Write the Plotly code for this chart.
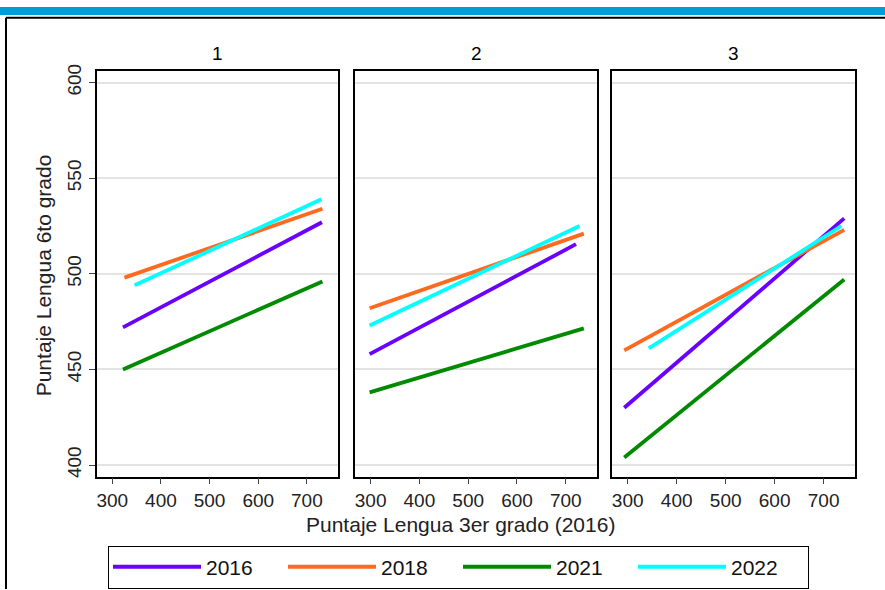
import plotly.graph_objects as go

# ---------------- data ----------------
panels = ["1", "2", "3"]
years = ["2016", "2018", "2021", "2022"]
colors = {"2016": "#6A00FF", "2018": "#FF6A1F", "2021": "#008A00", "2022": "#00FFFF"}

# Fitted-line endpoints per panel (panel 1, 2, 3)
x_start = {"2016": [322, 298, 293], "2018": [325, 298, 293], "2021": [322, 298, 293], "2022": [346, 298, 343]}
x_end = {"2016": [731, 721, 742], "2018": [732, 737, 742], "2021": [732, 737, 742], "2022": [730, 728, 736]}
y_start = {"2016": [472, 458, 430], "2018": [498, 482, 460], "2021": [450, 438, 404], "2022": [494, 473, 461]}
y_end = {"2016": [527, 515.5, 529], "2018": [534, 521, 523], "2021": [496, 471.5, 497], "2022": [539, 525, 525]}

x_ticks = [300, 400, 500, 600, 700]
y_ticks = [400, 450, 500, 550, 600]
x_title = "Puntaje Lengua 3er grado (2016)"
y_title = "Puntaje Lengua 6to grado"

# ---------------- layout geometry (pixels) ----------------
W, H = 885, 590
px_x = [(96.7, 338), (355, 597), (612, 855)]
py_top, py_bot = 65, 476
FONT = "Liberation Sans, Arial, sans-serif"

fig = go.Figure()
for i, p in enumerate(panels):
    ax = "" if i == 0 else str(i + 1)
    for y in years:
        fig.add_trace(go.Scatter(
            x=[x_start[y][i], x_end[y][i]],
            y=[y_start[y][i], y_end[y][i]],
            mode="lines",
            line=dict(color=colors[y], width=3.8),
            name=y,
            legendgroup=y,
            showlegend=(i == 0),
            xaxis="x" + ax, yaxis="y" + ax,
        ))

layout = dict(
    width=W, height=H,
    margin=dict(l=0, r=0, t=0, b=0),
    paper_bgcolor="white", plot_bgcolor="white",
    font=dict(family=FONT, size=19, color="black"),
    showlegend=True,
    legend=dict(
        orientation="h", x=108 / W, xanchor="left", y=1 - 546 / H, yanchor="top",
        bordercolor="black", borderwidth=1, font=dict(size=21, color="#111"),
        entrywidth=72, entrywidthmode="pixels", itemwidth=88,
        tracegroupgap=0,
    ),
)
dom_y = [1 - py_bot / H, 1 - py_top / H]
annotations = []
for i, p in enumerate(panels):
    ax = "" if i == 0 else str(i + 1)
    dx = [px_x[i][0] / W, px_x[i][1] / W]
    layout["xaxis" + ax] = dict(
        domain=dx, range=[268, 764], anchor="y" + ax,
        tickvals=x_ticks, ticks="outside", ticklen=6, tickcolor="#444", tickwidth=1,
        showgrid=False, zeroline=False,
        showline=True, mirror=True, linecolor="black", linewidth=1.5,
        tickfont=dict(size=19, color="#222"),
    )
    layout["yaxis" + ax] = dict(
        domain=dom_y, range=[394, 606], anchor="x" + ax,
        tickvals=y_ticks, showgrid=True, gridcolor="#e3e3e3", gridwidth=2,
        zeroline=False, showline=True, mirror=True, linecolor="black", linewidth=1.5,
        ticks="outside" if i == 0 else "", ticklen=6, tickcolor="#444",
        showticklabels=(i == 0), tickangle=-90,
        tickfont=dict(size=19, color="#222"),
    )
    annotations.append(dict(
        text=p, x=(dx[0] + dx[1]) / 2, y=1 - 47 / H, xref="paper", yref="paper",
        showarrow=False, font=dict(size=19), xanchor="center", yanchor="middle",
    ))

annotations.append(dict(
    text=x_title, x=460 / W, y=1 - 525 / H, xref="paper", yref="paper",
    showarrow=False, font=dict(size=21, color="#222"), xanchor="center", yanchor="middle",
))
annotations.append(dict(
    text=y_title, x=43 / W, y=1 - 272 / H, xref="paper", yref="paper",
    showarrow=False, font=dict(size=21, color="#222"), textangle=-90,
    xanchor="center", yanchor="middle",
))
layout["annotations"] = annotations

layout["shapes"] = [
    dict(type="rect", xref="paper", yref="paper", x0=0, x1=1, y0=1 - 8 / H, y1=1,
         fillcolor="#009ADE", line=dict(width=0), layer="above"),
    dict(type="line", xref="paper", yref="paper", x0=6 / W, x1=1, y0=1 - 11 / H, y1=1 - 11 / H,
         line=dict(color="black", width=2)),
    dict(type="line", xref="paper", yref="paper", x0=6 / W, x1=6 / W, y0=0, y1=1 - 11 / H,
         line=dict(color="black", width=2)),
]

fig.update_layout(**layout)
fig.write_html(
    "out.html",
    config={"displayModeBar": False},
    post_script="document.body.style.margin='0';document.body.style.overflow='hidden';",
)
